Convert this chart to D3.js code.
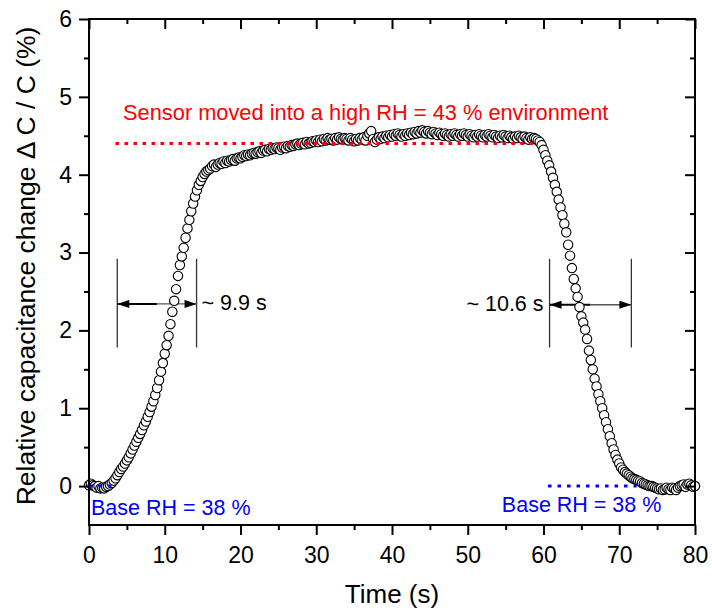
<!DOCTYPE html>
<meta charset="utf-8">
<style>
    body { margin: 0; background: #fff; }
    svg { display: block; font-family: "Liberation Sans", Arial, sans-serif; }
    .tick text { font-size: 23px; fill: #000; }
    .tick line { stroke: #000; stroke-width: 2; }
</style>
<body>
<svg width="712" height="613"></svg>
<script src="https://d3js.org/d3.v7.min.js"></script>
<script>
    // sampling step of the measurement (s)
    var dt = 0.25;

    // relative capacitance change (%), one value every dt from 0 to 80 s
    var dCC = [
        0.01, 0.03, 0.01, 0.00, -0.02, 0.00, -0.03, -0.02,
        -0.03, -0.01, 0.00, 0.02, 0.04, 0.07, 0.10, 0.14,
        0.18, 0.22, 0.25, 0.29, 0.33, 0.37, 0.42, 0.47,
        0.52, 0.57, 0.62, 0.67, 0.72, 0.78, 0.83, 0.89,
        0.95, 1.02, 1.09, 1.17, 1.26, 1.36, 1.47, 1.58,
        1.70, 1.81, 1.93, 2.08, 2.24, 2.38, 2.53, 2.70,
        2.84, 2.95, 3.06, 3.19, 3.31, 3.42, 3.53, 3.63,
        3.72, 3.80, 3.87, 3.92, 3.97, 4.01, 4.04, 4.06,
        4.08, 4.11, 4.13, 4.10, 4.13, 4.15, 4.14, 4.17,
        4.15, 4.18, 4.17, 4.19, 4.20, 4.18, 4.21, 4.22,
        4.21, 4.23, 4.25, 4.24, 4.26, 4.25, 4.27, 4.28,
        4.27, 4.29, 4.30, 4.28, 4.31, 4.32, 4.30, 4.33,
        4.32, 4.34, 4.33, 4.35, 4.34, 4.32, 4.35, 4.36,
        4.34, 4.37, 4.36, 4.38, 4.37, 4.39, 4.40, 4.38,
        4.40, 4.41, 4.39, 4.42, 4.40, 4.41, 4.43, 4.42,
        4.44, 4.42, 4.45, 4.43, 4.46, 4.44, 4.47, 4.45,
        4.46, 4.44, 4.47, 4.45, 4.48, 4.46, 4.45, 4.47,
        4.46, 4.44, 4.47, 4.45, 4.43, 4.46, 4.44, 4.47,
        4.45, 4.48, 4.44, 4.50, 4.53, 4.56, 4.46, 4.42,
        4.45, 4.48, 4.46, 4.49, 4.47, 4.50, 4.48, 4.51,
        4.49, 4.52, 4.50, 4.53, 4.51, 4.49, 4.52, 4.50,
        4.53, 4.51, 4.54, 4.52, 4.55, 4.53, 4.56, 4.54,
        4.57, 4.55, 4.53, 4.56, 4.54, 4.52, 4.55, 4.53,
        4.51, 4.54, 4.52, 4.50, 4.53, 4.51, 4.49, 4.52,
        4.50, 4.53, 4.51, 4.49, 4.52, 4.50, 4.53, 4.51,
        4.49, 4.52, 4.50, 4.48, 4.51, 4.49, 4.52, 4.50,
        4.48, 4.51, 4.49, 4.52, 4.50, 4.48, 4.51, 4.49,
        4.47, 4.50, 4.48, 4.51, 4.49, 4.47, 4.50, 4.48,
        4.46, 4.49, 4.47, 4.50, 4.48, 4.46, 4.49, 4.47,
        4.45, 4.48, 4.46, 4.47, 4.46, 4.44, 4.42, 4.38,
        4.32, 4.25, 4.18, 4.12, 4.04, 3.96, 3.87, 3.78,
        3.68, 3.58, 3.48, 3.37, 3.26, 3.10, 2.96, 2.80,
        2.66, 2.54, 2.43, 2.30, 2.18, 2.10, 2.01, 1.89,
        1.74, 1.62, 1.50, 1.38, 1.28, 1.18, 1.09, 1.00,
        0.91, 0.82, 0.73, 0.64, 0.55, 0.47, 0.40, 0.34,
        0.29, 0.24, 0.21, 0.18, 0.16, 0.14, 0.12, 0.10,
        0.09, 0.08, 0.07, 0.06, 0.04, 0.03, 0.02, 0.01,
        0.00, 0.00, -0.01, -0.02, -0.03, -0.04, -0.03, -0.05,
        -0.04, -0.02, -0.04, -0.05, -0.02, -0.03, -0.05, -0.02,
        0.00, 0.01, 0.02, -0.01, 0.02, 0.03, 0.01, -0.01,
        0.00
    ];

    var xTicks = [0, 10, 20, 30, 40, 50, 60, 70, 80];
    var xMinor = [5, 15, 25, 35, 45, 55, 65, 75];
    var yTicks = [0, 1, 2, 3, 4, 5, 6];
    var yMinor = [0.5, 1.5, 2.5, 3.5, 4.5, 5.5];

    // annotation values in data units
    var highLevel = 4.4, highFrom = 3.5, highTo = 58.9;
    var baseLeft = [0, 3], baseRight = [60.6, 72.3];
    var riseMarks = [3.73, 14.2], fallMarks = [60.8, 71.6];
    var markRange = [1.78, 2.92];
    var riseArrowY = 2.34, fallArrowY = 2.33;
    var riseLabel = "~ 9.9 s", fallLabel = "~ 10.6 s";

    var svg = d3.select("svg");
    var margin = {left: 89, top: 19, right: 17, bottom: 88};
    var width = 712 - margin.left - margin.right;
    var height = 613 - margin.top - margin.bottom;

    var g = svg.append("g").attr("transform", "translate(" + margin.left + "," + margin.top + ")");

    var x = d3.scaleLinear().domain([0, 80]).range([0, width]);
    var y = d3.scaleLinear().domain([-0.5, 6]).range([height, 0]);

    var points = dCC.map(function(v, i) { return {t: i * dt, v: v}; });

    // annotation lines under the markers
    function markLines(ts) {
        g.selectAll(null).data(ts).enter().append("line")
            .attr("x1", function(d) { return x(d); })
            .attr("x2", function(d) { return x(d); })
            .attr("y1", y(markRange[1]))
            .attr("y2", y(markRange[0]))
            .attr("stroke", "#333").attr("stroke-width", 1.3);
    }
    markLines(riseMarks);
    markLines(fallMarks);

    var defs = svg.append("defs");
    defs.append("marker").attr("id", "head")
        .attr("viewBox", "0 0 12 8").attr("refX", 12).attr("refY", 4)
        .attr("markerUnits", "userSpaceOnUse")
        .attr("markerWidth", 13).attr("markerHeight", 8)
        .attr("orient", "auto-start-reverse")
        .append("path").attr("d", "M0,0 L12,4 L0,8 Z").attr("fill", "#000");

    function arrow(a, b, v) {
        var mid = (a + b) / 2;
        g.append("line")
            .attr("x1", x(a)).attr("x2", x(mid))
            .attr("y1", y(v)).attr("y2", y(v))
            .attr("stroke", "#000").attr("stroke-width", 2)
            .attr("marker-start", "url(#head)");
        g.append("line")
            .attr("x1", x(mid)).attr("x2", x(b))
            .attr("y1", y(v)).attr("y2", y(v))
            .attr("stroke", "#555").attr("stroke-width", 1.4)
            .attr("marker-end", "url(#head)");
    }
    arrow(riseMarks[0], riseMarks[1], riseArrowY);
    arrow(fallMarks[0], fallMarks[1], fallArrowY);

    // markers
    g.append("g")
        .selectAll("circle")
        .data(points)
        .enter().append("circle")
        .attr("cx", function(d) { return x(d.t); })
        .attr("cy", function(d) { return y(d.v); })
        .attr("r", 4.7)
        .attr("fill", "#fff")
        .attr("stroke", "#000")
        .attr("stroke-width", 1.1);

    // dotted reference lines
    g.append("line")
        .attr("x1", x(highFrom)).attr("x2", x(highTo))
        .attr("y1", y(highLevel)).attr("y2", y(highLevel))
        .attr("stroke", "#ff0000").attr("stroke-width", 3)
        .attr("stroke-dasharray", "3.5,5.5");

    [baseLeft, baseRight].forEach(function(r) {
        g.append("line")
            .attr("x1", x(r[0])).attr("x2", x(r[1]))
            .attr("y1", y(0)).attr("y2", y(0))
            .attr("stroke", "#0000ff").attr("stroke-width", 3)
            .attr("stroke-dasharray", "3.5,6");
    });

    // texts
    g.append("text")
        .attr("x", x(4.5)).attr("y", y(4.7))
        .attr("fill", "#ff0000").style("font-size", "21.8px")
        .text("Sensor moved into a high RH = 43 % environment");

    g.append("text")
        .attr("x", x(0.26)).attr("y", y(-0.37))
        .attr("fill", "#0000ff").style("font-size", "21.5px")
        .text("Base RH = 38 %");

    g.append("text")
        .attr("x", x(54.5)).attr("y", y(-0.33))
        .attr("fill", "#0000ff").style("font-size", "21.5px")
        .text("Base RH = 38 %");

    g.append("text")
        .attr("x", x(riseMarks[1]) + 5).attr("y", y(riseArrowY) + 6)
        .style("font-size", "21.5px")
        .text(riseLabel);

    g.append("text")
        .attr("x", x(fallMarks[0]) - 6).attr("y", y(fallArrowY) + 6)
        .attr("text-anchor", "end")
        .style("font-size", "21.5px")
        .text(fallLabel);

    // axes
    function noDomain(sel) { sel.select(".domain").remove(); }

    g.append("g").attr("transform", "translate(0," + height + ")")
        .call(d3.axisBottom(x).tickValues(xTicks).tickSize(10).tickPadding(12).tickFormat(d3.format("d")))
        .call(noDomain);
    g.append("g").attr("transform", "translate(0," + height + ")")
        .call(d3.axisBottom(x).tickValues(xMinor).tickSize(5).tickFormat(""))
        .call(noDomain);
    g.append("g")
        .call(d3.axisBottom(x).tickValues(xTicks).tickSize(10).tickFormat(""))
        .call(noDomain);
    g.append("g")
        .call(d3.axisBottom(x).tickValues(xMinor).tickSize(5).tickFormat(""))
        .call(noDomain);

    g.append("g")
        .call(d3.axisLeft(y).tickValues(yTicks).tickSize(10).tickPadding(7).tickFormat(d3.format("d")))
        .call(noDomain);
    g.append("g")
        .call(d3.axisLeft(y).tickValues(yMinor).tickSize(5).tickFormat(""))
        .call(noDomain);
    g.append("g").attr("transform", "translate(" + width + ",0)")
        .call(d3.axisLeft(y).tickValues(yTicks).tickSize(10).tickFormat(""))
        .call(noDomain);
    g.append("g").attr("transform", "translate(" + width + ",0)")
        .call(d3.axisLeft(y).tickValues(yMinor).tickSize(5).tickFormat(""))
        .call(noDomain);

    g.append("rect")
        .attr("width", width).attr("height", height)
        .attr("fill", "none").attr("stroke", "#000").attr("stroke-width", 2);

    // axis titles
    svg.append("text")
        .attr("x", margin.left + width / 2).attr("y", 603)
        .attr("text-anchor", "middle").style("font-size", "26px")
        .text("Time (s)");

    svg.append("text")
        .attr("transform", "translate(35," + 266 + ") rotate(-90)")
        .attr("text-anchor", "middle").style("font-size", "26.5px")
        .text("Relative capacitance change \u0394 C / C (%)");
</script>
</body>
